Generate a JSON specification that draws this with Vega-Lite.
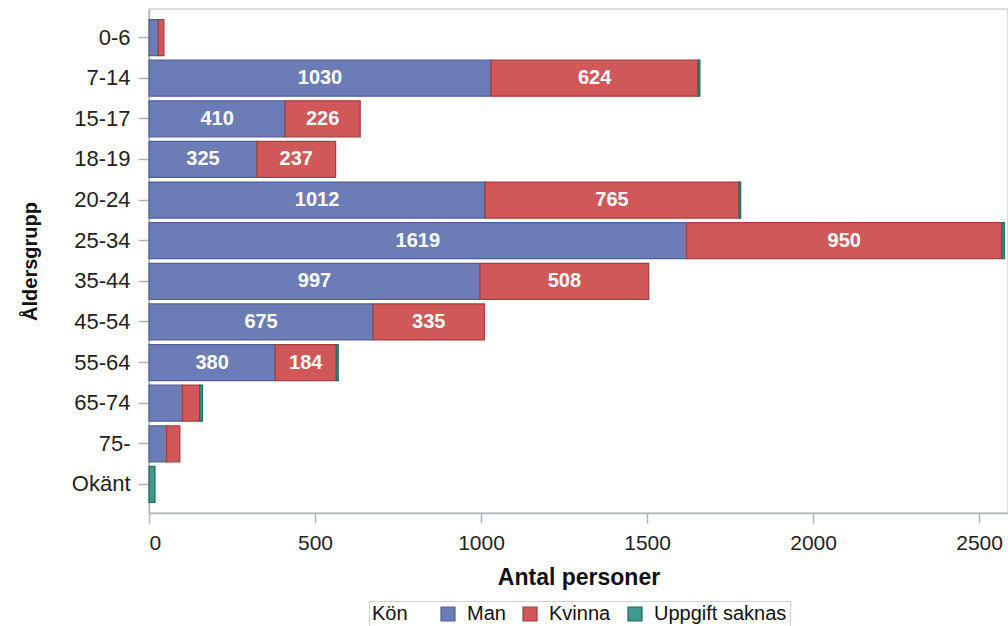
{
  "$schema": "https://vega.github.io/schema/vega-lite/v6.json",
  "width": 859,
  "height": 504,
  "autosize": "none",
  "padding": {"left": 149, "top": 9, "right": 0, "bottom": 113},
  "config": {
    "font": "Liberation Sans",
    "view": {"stroke": "#d0d4d8", "strokeWidth": 1.5},
    "axis": {"labelFont": "Liberation Sans", "titleFont": "Liberation Sans", "labelColor": "#222", "titleColor": "#111", "domainColor": "#b0b4b8", "tickColor": "#b0b4b8", "domainWidth": 1.5, "tickWidth": 1.5, "grid": false}
  },
  "data": {
    "values": [
      {"age": "0-6", "gender": "Man", "value": 28},
      {"age": "0-6", "gender": "Kvinna", "value": 17},
      {"age": "7-14", "gender": "Man", "value": 1030},
      {"age": "7-14", "gender": "Kvinna", "value": 624},
      {"age": "7-14", "gender": "Uppgift saknas", "value": 5},
      {"age": "15-17", "gender": "Man", "value": 410},
      {"age": "15-17", "gender": "Kvinna", "value": 226},
      {"age": "18-19", "gender": "Man", "value": 325},
      {"age": "18-19", "gender": "Kvinna", "value": 237},
      {"age": "20-24", "gender": "Man", "value": 1012},
      {"age": "20-24", "gender": "Kvinna", "value": 765},
      {"age": "20-24", "gender": "Uppgift saknas", "value": 5},
      {"age": "25-34", "gender": "Man", "value": 1619},
      {"age": "25-34", "gender": "Kvinna", "value": 950},
      {"age": "25-34", "gender": "Uppgift saknas", "value": 7},
      {"age": "35-44", "gender": "Man", "value": 997},
      {"age": "35-44", "gender": "Kvinna", "value": 508},
      {"age": "45-54", "gender": "Man", "value": 675},
      {"age": "45-54", "gender": "Kvinna", "value": 335},
      {"age": "55-64", "gender": "Man", "value": 380},
      {"age": "55-64", "gender": "Kvinna", "value": 184},
      {"age": "55-64", "gender": "Uppgift saknas", "value": 6},
      {"age": "65-74", "gender": "Man", "value": 101},
      {"age": "65-74", "gender": "Kvinna", "value": 52},
      {"age": "65-74", "gender": "Uppgift saknas", "value": 8},
      {"age": "75-", "gender": "Man", "value": 53},
      {"age": "75-", "gender": "Kvinna", "value": 40},
      {"age": "Okänt", "gender": "Uppgift saknas", "value": 18}
    ]
  },
  "transform": [
    {"calculate": "indexof(['Man','Kvinna','Uppgift saknas'], datum.gender)", "as": "ord"},
    {"stack": "value", "groupby": ["age"], "sort": [{"field": "ord", "order": "ascending"}], "as": ["v0", "v1"]},
    {"calculate": "(datum.v0 + datum.v1) / 2", "as": "mid"}
  ],
  "encoding": {
    "y": {
      "field": "age", "type": "nominal", "sort": null,
      "scale": {"paddingInner": 0.113, "paddingOuter": 0.26},
      "axis": {"title": "Åldersgrupp", "titleFontSize": 20, "titleFontWeight": "bold", "labelFontSize": 22, "tickSize": 11, "labelPadding": 8, "titlePadding": 31}
    }
  },
  "layer": [
    {
      "mark": {"type": "bar", "strokeWidth": 1.2},
      "encoding": {
        "x": {
          "field": "v0", "type": "quantitative",
          "scale": {"domain": [0, 2587], "nice": false},
          "axis": {"title": "Antal personer", "values": [0, 500, 1000, 1500, 2000, 2500], "format": "d", "titleFontSize": 23, "titleFontWeight": "bold", "labelFontSize": 21, "tickSize": 10, "labelPadding": 9, "titlePadding": 13}
        },
        "x2": {"field": "v1"},
        "color": {
          "field": "gender", "type": "nominal", "sort": ["Man", "Kvinna", "Uppgift saknas"],
          "scale": {"domain": ["Man", "Kvinna", "Uppgift saknas"], "range": ["#6b7cb6", "#d05858", "#3f9a8c"]},
          "legend": {
            "title": "Kön", "orient": "none", "legendX": 220, "legendY": 592, "direction": "horizontal", "titleOrient": "left",
            "titleFontSize": 20, "titleFontWeight": "normal", "titleColor": "#111", "labelColor": "#111", "labelFontSize": 20, "symbolType": "square", "symbolSize": 196,
            "symbolStrokeWidth": 1.2, "strokeColor": "#d0d0d0", "padding": 3, "columnPadding": 14, "labelOffset": 9, "titlePadding": 30
          }
        },
        "stroke": {
          "field": "gender", "type": "nominal", "sort": ["Man", "Kvinna", "Uppgift saknas"],
          "scale": {"domain": ["Man", "Kvinna", "Uppgift saknas"], "range": ["#4f5f9a", "#a83d3d", "#1e6b5e"]},
          "legend": {
            "title": "Kön", "orient": "none", "legendX": 220, "legendY": 592, "direction": "horizontal", "titleOrient": "left",
            "titleFontSize": 20, "titleFontWeight": "normal", "titleColor": "#111", "labelColor": "#111", "labelFontSize": 20, "symbolType": "square", "symbolSize": 196,
            "symbolStrokeWidth": 1.2, "strokeColor": "#d0d0d0", "padding": 3, "columnPadding": 14, "labelOffset": 9, "titlePadding": 30
          }
        }
      }
    },
    {
      "transform": [{"filter": "datum.value >= 150"}],
      "mark": {"type": "text", "color": "white", "fontWeight": "bold", "fontSize": 20, "baseline": "middle", "align": "center"},
      "encoding": {
        "x": {"field": "mid", "type": "quantitative"},
        "text": {"field": "value", "type": "quantitative"}
      }
    }
  ]
}
